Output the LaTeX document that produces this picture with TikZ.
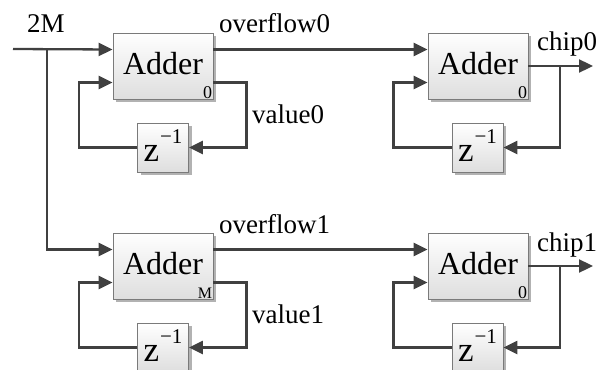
\documentclass[tikz,border=0pt]{standalone}
\usepackage{fontspec}
\setmainfont{Liberation Serif}
\usetikzlibrary{arrows.meta,shadows}

\newcommand\adderfont{\fontsize{32}{32}\selectfont}
\newcommand\labelfont{\fontsize{27}{27}\selectfont}
\newcommand\subfont{\fontsize{18}{18}\selectfont}
\newcommand\msubfont{\fontsize{16}{16}\selectfont}
\newcommand\zfont{\fontsize{35}{35}\selectfont}
\newcommand\supfont{\fontsize{21}{21}\selectfont}
\newcommand\zinv{z\kern1pt\raisebox{18pt}{\supfont −1}}

\definecolor{wirecol}{HTML}{404040}
\definecolor{edgecol}{HTML}{7A7A7A}

\tikzset{
  blockbase/.style={draw=edgecol, line width=0.8pt, top color=white,
    bottom color=black!13, inner sep=0pt,
    drop shadow={shadow xshift=3pt, shadow yshift=-3pt, fill=black!30, opacity=1}},
  adderbox/.style={blockbase, minimum width=100pt, minimum height=66pt,
    font=\adderfont, text depth=5pt},
  delaybox/.style={blockbase, minimum width=51pt, minimum height=49pt,
    font=\zfont, text depth=3pt},
  wire/.style={draw=wirecol, line width=2.3pt},
  arr/.style={wire, -{Triangle[length=14pt,width=13pt]}},
  sig/.style={font=\labelfont, inner sep=0pt, anchor=base west},
  subtag/.style={anchor=south east, inner sep=1pt}
}

\begin{document}
\begin{tikzpicture}[x=1pt,y=-1pt]
  \clip (0,0) rectangle (609,369);

  % accumulator blocks
  \node[adderbox, label={[subtag, font=\subfont]south east:0}] (A0) at (163,66) {Adder};
  \node[adderbox, label={[subtag, font=\subfont]south east:0}] (B0) at (478,66) {Adder};
  \node[adderbox, label={[subtag, font=\msubfont]south east:M}] (A1) at (163,266) {Adder};
  \node[adderbox, label={[subtag, font=\subfont]south east:0}] (B1) at (478,266) {Adder};

  % unit delays
  \node[delaybox] (Z0) at (163,147.5) {\zinv};
  \node[delaybox] (Z2) at (477.5,147.5) {\zinv};
  \node[delaybox] (Z1) at (163,347.5) {\zinv};
  \node[delaybox] (Z3) at (477.5,347.5) {\zinv};

  % input and its fork
  \coordinate (in0) at (13,49);
  \coordinate (fork) at (47,49);
  \draw[arr] (in0) -- ([yshift=16.5pt]A0.west);
  \draw[arr] (fork) |- ([yshift=16.5pt]A1.west);

  % overflow paths
  \draw[arr] ([yshift=16.5pt]A0.east) -- ([yshift=16.5pt]B0.west);
  \draw[arr] ([yshift=16.5pt]A1.east) -- ([yshift=16.5pt]B1.west);

  % feedback loops of the first stage
  \draw[arr] ([yshift=-16.5pt]A0.east) -- ++(33,0) |- (Z0.east);
  \draw[arr] (Z0.west) -- ++(-58,0) |- ([yshift=-16.5pt]A0.west);
  \draw[arr] ([yshift=-16.5pt]A1.east) -- ++(33,0) |- (Z1.east);
  \draw[arr] (Z1.west) -- ++(-58,0) |- ([yshift=-16.5pt]A1.west);

  % outputs and feedback loops of the second stage
  \coordinate (out0) at (593,66);
  \coordinate (tap0) at (560,66);
  \draw[arr] (B0.east) -- (out0);
  \draw[arr] (tap0) |- (Z2.east);
  \draw[arr] (Z2.west) -- ++(-58,0) |- ([yshift=-16.5pt]B0.west);

  \coordinate (out1) at (593,266);
  \coordinate (tap1) at (560,266);
  \draw[arr] (B1.east) -- (out1);
  \draw[arr] (tap1) |- (Z3.east);
  \draw[arr] (Z3.west) -- ++(-58,0) |- ([yshift=-16.5pt]B1.west);

  % signal names
  \node[sig] (l2M) at (27,33) {2M};
  \node[sig] (lov0) at (219,33) {overflow0};
  \node[sig] (lval0) at (252,123) {value0};
  \node[sig] (lchip0) at (537,51) {chip0};
  \node[sig] (lov1) at (219,233) {overflow1};
  \node[sig] (lval1) at (252,323) {value1};
  \node[sig] (lchip1) at (537,251) {chip1};
\end{tikzpicture}
\end{document}
